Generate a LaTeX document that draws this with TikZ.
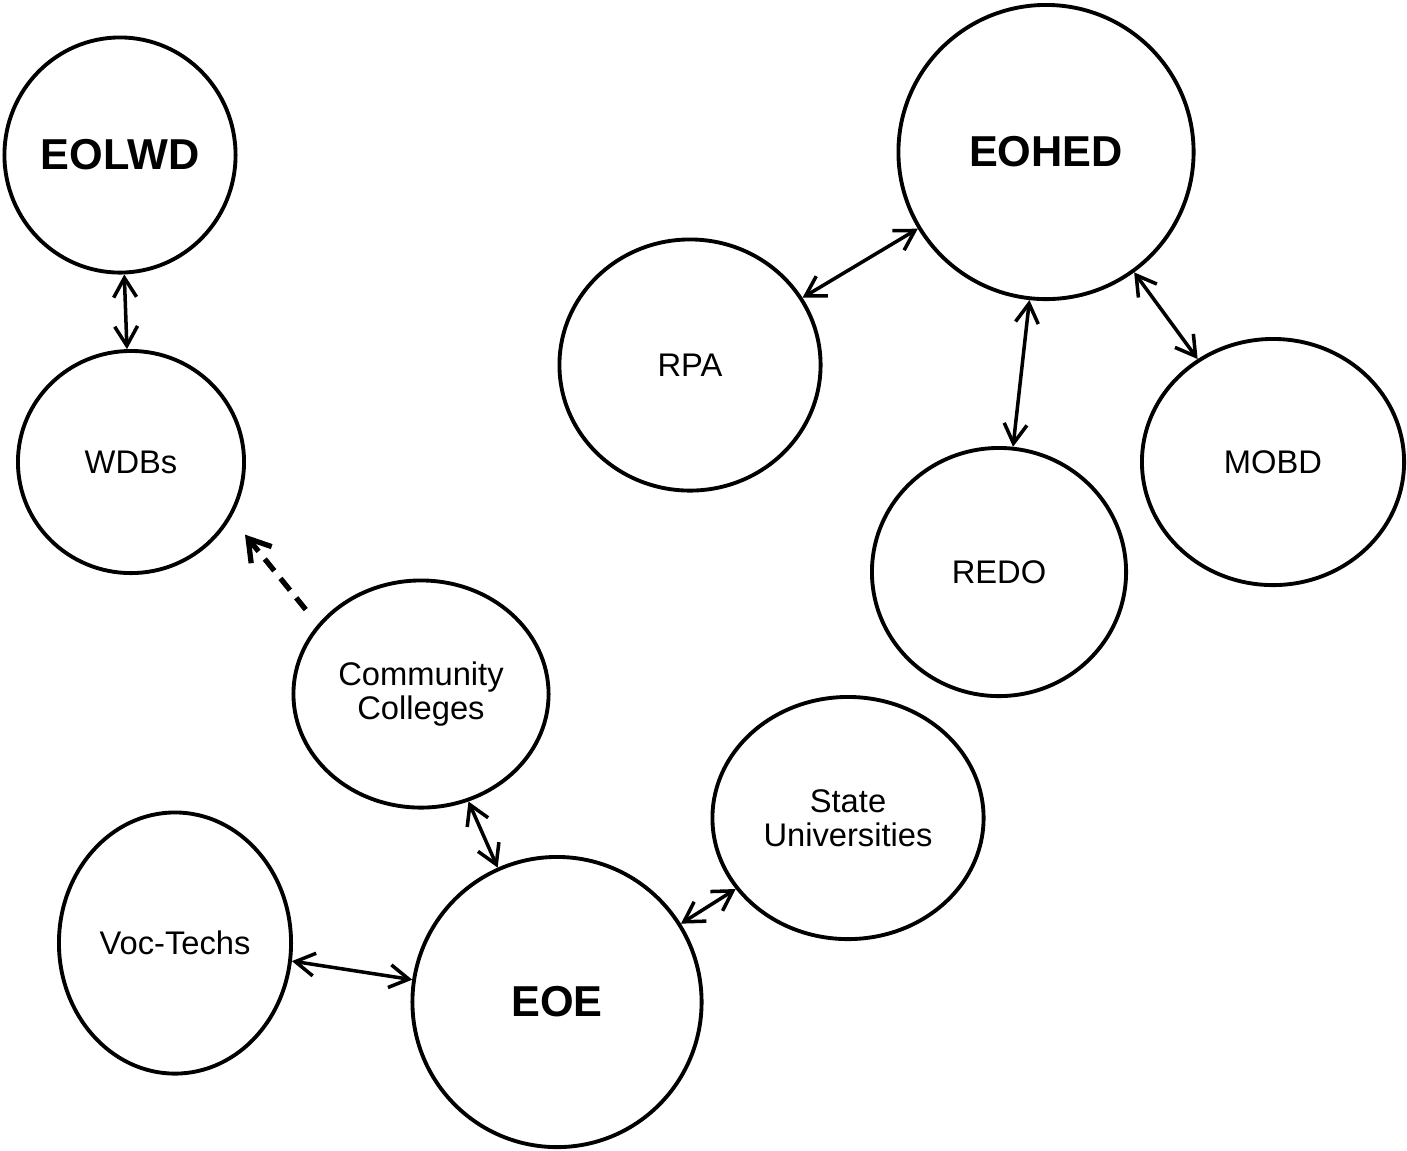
\documentclass[tikz,border=0pt]{standalone}
\usepackage{fontspec}
\setmainfont{Liberation Sans}
\usetikzlibrary{arrows.meta,shapes.geometric}

\begin{document}
\begin{tikzpicture}[
		x=0.01cm, y=-0.01cm,
		org/.style={draw, ellipse, line width=1.1pt, inner sep=0pt, align=center, font=\fontsize{9.3}{9.8}\selectfont},
		office/.style={org, font=\fontsize{12.3}{14}\selectfont\bfseries},
		link/.style={{Straight Barb[length=5.5pt,width=6.5pt]}-{Straight Barb[length=5.5pt,width=6.5pt]}, line width=1pt},
		feed/.style={-{Straight Barb[length=6pt,width=7.5pt]}, line width=1.5pt, dash pattern=on 4.3pt off 2.8pt},
	]
		\useasboundingbox (0,0) rectangle (1407,1150);

		\node[office, minimum width=2.31cm, minimum height=2.35cm] (eolwd) at (120,155) {EOLWD};
		\node[org, minimum width=2.26cm, minimum height=2.22cm] (wdb) at (131,462) {WDBs};
		\node[office, minimum width=2.95cm, minimum height=2.94cm] (eohed) at (1046,152) {EOHED};
		\node[org, minimum width=2.61cm, minimum height=2.51cm] (rpa) at (690,365) {RPA};
		\node[org, minimum width=2.62cm, minimum height=2.46cm] (mobd) at (1273,462) {MOBD};
		\node[org, minimum width=2.54cm, minimum height=2.48cm] (redo) at (999,572) {REDO};
		\node[org, minimum width=2.55cm, minimum height=2.27cm] (cc) at (421,694) {Community\\Colleges};
		\node[org, minimum width=2.71cm, minimum height=2.42cm] (su) at (848,818) {State\\Universities};
		\node[org, minimum width=2.32cm, minimum height=2.61cm] (voc) at (175,943) {Voc-Techs};
		\node[office, minimum width=2.89cm, minimum height=2.90cm] (eoe) at (557,1002) {EOE};

		\draw[link] (eolwd) -- (wdb);
		\draw[link] (rpa) -- (eohed);
		\draw[link] (eohed) -- (redo);
		\draw[link] (eohed) -- (mobd);
		\draw[link] (cc) -- (eoe);
		\draw[link] (eoe) -- (su);
		\draw[link] (voc) -- (eoe);
		\draw[feed, shorten <=0.19cm, shorten >=0.22cm] (cc.146) -- (wdb.-29);
	\end{tikzpicture}
\end{document}
